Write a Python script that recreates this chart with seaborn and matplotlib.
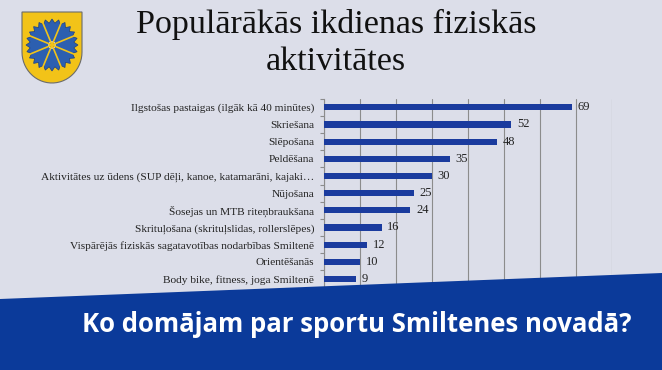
import numpy as np
import matplotlib
matplotlib.use("Agg")
import matplotlib.pyplot as plt
from matplotlib.patches import Polygon, Circle
import seaborn as sns

# chart data
activities = [
    "Ilgstošas pastaigas (ilgāk kā 40 minūtes)",
    "Skriešana",
    "Slēpošana",
    "Peldēšana",
    "Aktivitātes uz ūdens (SUP dēļi, kanoe, katamarāni, kajaki…",
    "Nūjošana",
    "Šosejas un MTB riteņbraukšana",
    "Skrituļošana (skrituļslidas, rollerslēpes)",
    "Vispārējās fiziskās sagatavotības nodarbības Smiltenē",
    "Orientēšanās",
    "Body bike, fitness, joga Smiltenē",
]
counts = [69, 52, 48, 35, 30, 25, 24, 16, 12, 10, 9]
x_ticks = [0, 10, 20, 30, 40, 50, 60, 70, 80]

title_lines = ["Populārākās ikdienas fiziskās", "aktivitātes"]
banner_text = "Ko domājam par sportu Smiltenes novadā?"

BG = "#dcdee9"
BAR = "#1a3b9e"
BANNER = "#0b3a9a"

W, H = 662, 370
sns.set_theme(style="white")
plt.rcParams["font.family"] = ["Liberation Serif", "DejaVu Serif"]

fig = plt.figure(figsize=(W / 100, H / 100), dpi=100, facecolor=BG)

# chart area in pixel terms
left, right, top, bottom = 324, 612, 98.7, 287.6
ax = fig.add_axes([left / W, 1 - bottom / H, (right - left) / W, (bottom - top) / H])
ax.set_facecolor(BG)

sns.barplot(x=counts, y=activities, color=BAR, width=0.36, orient="h",
            saturation=1, linewidth=0, edgecolor=BAR, ax=ax, zorder=3)
ax.bar_label(ax.containers[0], padding=4, fontsize=9, color="#222222")

ax.set_xlim(0, 80)
ax.set_ylim(len(activities) - 0.5, -0.5)
ax.set_xticks(x_ticks)
# x tick labels sit under the banner in the reference
ax.tick_params(axis="x", length=0, labelbottom=False)
ax.xaxis.grid(True, color="#8c8c8c", linewidth=0.8, zorder=0)
ax.set_axisbelow(True)
ax.tick_params(axis="y", length=0, pad=7, labelsize=8.2, labelcolor="#222222")
ax.set_yticks(np.arange(-0.5, len(activities)), minor=True)
ax.tick_params(axis="y", which="minor", length=3, color="#8c8c8c", width=0.8, left=True)
ax.set_xlabel("")
ax.set_ylabel("")
for s in ["top", "right", "bottom"]:
    ax.spines[s].set_visible(False)
ax.spines["left"].set_color("#8c8c8c")
ax.spines["left"].set_linewidth(0.8)

# title
fig.text(336 / W, 1 - 24 / H, title_lines[0], ha="center", va="center",
         fontsize=24.5, color="#111111")
fig.text(336 / W, 1 - 62 / H, title_lines[1], ha="center", va="center",
         fontsize=24.5, color="#111111")

# blue banner at the bottom
banner = Polygon([[0, 1 - 299 / H], [1, 1 - 273 / H], [1, 0], [0, 0]], closed=True,
                 transform=fig.transFigure, facecolor=BANNER, edgecolor="none", zorder=5)
fig.patches.append(banner)
fig.text(356.5 / W, 1 - 325 / H, banner_text, ha="center", va="center", fontsize=18.5,
         fontweight="bold", color="white", family=["Open Sans", "DejaVu Sans"], zorder=6)

# coat of arms (simple drawing)
lax = fig.add_axes([0, 0, 1, 1], zorder=7)
lax.set_xlim(0, W)
lax.set_ylim(H, 0)
lax.axis("off")
lax.patch.set_alpha(0)
t = np.linspace(0, np.pi, 30)
arc = np.column_stack([52 + 30 * np.cos(t), 52 + 31 * np.sin(t)])
shield = np.vstack([[[22, 12], [82, 12]], arc, [[22, 12]]])
lax.add_patch(Polygon(shield, closed=True, facecolor="#f2c318", edgecolor="#6b6b6b", linewidth=0.8))
ang = np.linspace(0, 2 * np.pi, 49)[:-1]
rad = np.where(np.arange(48) % 2 == 0, 26, 22)
star = np.column_stack([52 + rad * np.cos(ang), 45 + rad * np.sin(ang)])
lax.add_patch(Polygon(star, closed=True, facecolor="#2c5fb0", edgecolor="#1d3f80", linewidth=0.5))
for a in np.linspace(0, 2 * np.pi, 9)[:-1] + np.pi / 8:
    lax.plot([52, 52 + 23 * np.cos(a)], [45, 45 + 23 * np.sin(a)], color="#f2c318", lw=1.2)
lax.add_patch(Circle((52, 45), 3, facecolor="#1a1a1a"))

fig.savefig("out.png", dpi=100, facecolor=BG)
